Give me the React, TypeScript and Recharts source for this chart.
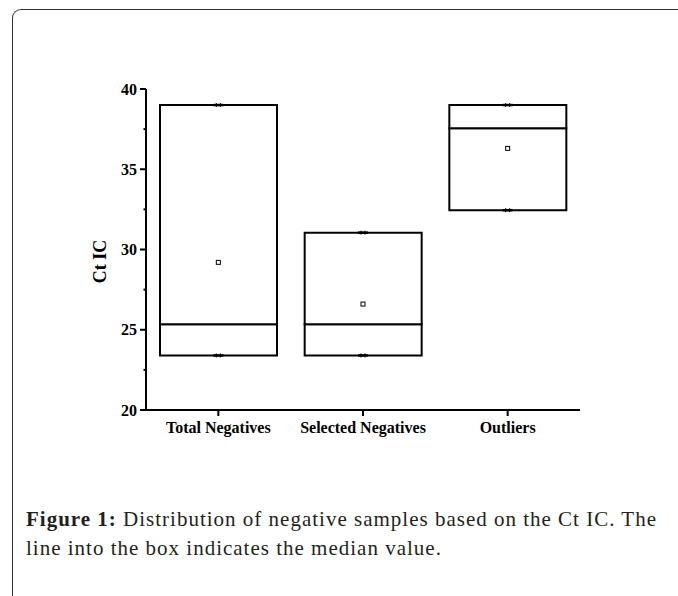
import { ComposedChart, Bar, Scatter, XAxis, YAxis, Label } from "recharts";

// Valeurs (Ct IC)
const categories = ["Total Negatives", "Selected Negatives", "Outliers"];
const minVals = [23.4, 23.4, 32.45];
const medianVals = [25.35, 25.35, 37.55];
const maxVals = [39, 31.05, 39];
const meanVals = [29.2, 26.6, 36.3];
const yTicks = [20, 22.5, 25, 27.5, 30, 32.5, 35, 37.5, 40];

const data = categories.map((name, i) => ({
  name,
  base: minVals[i],
  lower: medianVals[i] - minVals[i],
  upper: maxVals[i] - medianVals[i],
  min: minVals[i],
  max: maxVals[i],
  mean: meanVals[i],
}));

const SERIF = "'Liberation Serif', 'Times New Roman', serif";

const YTick = (props: any) => {
  const { x, y, payload } = props;
  const major = payload.value % 5 === 0;
  if (!major) {
    return <line x1={x - 2.5} x2={x} y1={y} y2={y} stroke="#000" strokeWidth={2} />;
  }
  return (
    <g>
      <line x1={x - 6} x2={x} y1={y} y2={y} stroke="#000" strokeWidth={2} />
      <text
        x={x - 9}
        y={y}
        dy={5.5}
        textAnchor="end"
        fontFamily={SERIF}
        fontWeight="bold"
        fontSize={16}
        fill="#000"
      >
        {payload.value}
      </text>
    </g>
  );
};

const XTick = (props: any) => {
  const { x, y, payload } = props;
  return (
    <g>
      <line x1={x} x2={x} y1={y} y2={y + 6} stroke="#000" strokeWidth={2} />
      <text
        x={x}
        y={y + 23}
        textAnchor="middle"
        fontFamily={SERIF}
        fontWeight="bold"
        fontSize={16}
        fill="#000"
      >
        {payload.value}
      </text>
    </g>
  );
};

// petit carré creux pour la moyenne
const MeanMark = (props: any) => {
  const { cx, cy } = props;
  return <rect x={cx - 2} y={cy - 2} width={4} height={4} fill="#fff" stroke="#000" strokeWidth={1} />;
};

// marques min / max sur les bords de la boîte
const EndMark = (props: any) => {
  const { cx, cy } = props;
  return (
    <g stroke="#000">
      <line x1={cx - 5} x2={cx + 5} y1={cy} y2={cy} strokeWidth={2.5} />
      <line x1={cx - 2} x2={cx - 2} y1={cy - 2} y2={cy + 2} strokeWidth={1} />
      <line x1={cx + 2} x2={cx + 2} y1={cy - 2} y2={cy + 2} strokeWidth={1} />
    </g>
  );
};

const captionLine = {
  position: "absolute" as const,
  left: 26,
  fontFamily: SERIF,
  fontSize: 21,
  letterSpacing: 1,
  lineHeight: "24px",
  color: "#231f20",
  whiteSpace: "nowrap" as const,
};

export default function App() {
  return (
    <div style={{ position: "absolute", left: 0, top: 0, width: 678, height: 596, overflow: "hidden", background: "#fff" }}>
      {/* cadre de la figure */}
      <div
        style={{
          position: "absolute",
          left: 12,
          top: 9,
          width: 720,
          height: 700,
          borderTop: "1.5px solid #333",
          borderLeft: "1.5px solid #333",
          borderTopLeftRadius: 9,
        }}
      />
      <div style={{ position: "absolute", left: 0, top: 0 }}>
        <ComposedChart
          width={678}
          height={460}
          data={data}
          margin={{ top: 89, right: 98, left: 86, bottom: 20 }}
          barCategoryGap={14}
        >
          <XAxis
            dataKey="name"
            axisLine={{ stroke: "#000", strokeWidth: 2 }}
            tickLine={false}
            tickSize={0}
            tickMargin={0}
            height={30}
            tick={<XTick />}
            interval={0}
          />
          <YAxis
            type="number"
            domain={[20, 40]}
            allowDataOverflow
            ticks={yTicks}
            width={60}
            axisLine={{ stroke: "#000", strokeWidth: 2 }}
            tickLine={false}
            tickSize={0}
            tickMargin={0}
            tick={<YTick />}
            interval={0}
          >
            <Label
              value="Ct IC"
              angle={-90}
              position="insideLeft"
              offset={14}
              dy={12}
              style={{ fontFamily: SERIF, fontWeight: "bold", fontSize: 18, fill: "#000", textAnchor: "middle" }}
            />
          </YAxis>
          <Bar dataKey="base" stackId="box" fill="transparent" stroke="none" isAnimationActive={false} />
          <Bar dataKey="lower" stackId="box" fill="#fff" stroke="#000" strokeWidth={2} isAnimationActive={false} />
          <Bar dataKey="upper" stackId="box" fill="#fff" stroke="#000" strokeWidth={2} isAnimationActive={false} />
          <Scatter dataKey="min" shape={<EndMark />} isAnimationActive={false} />
          <Scatter dataKey="max" shape={<EndMark />} isAnimationActive={false} />
          <Scatter dataKey="mean" shape={<MeanMark />} isAnimationActive={false} />
        </ComposedChart>
      </div>
      <div style={{ ...captionLine, top: 507 }}>
        <b>Figure 1:</b> Distribution of negative samples based on the Ct IC. The
      </div>
      <div style={{ ...captionLine, top: 536 }}>line into the box indicates the median value.</div>
    </div>
  );
}
